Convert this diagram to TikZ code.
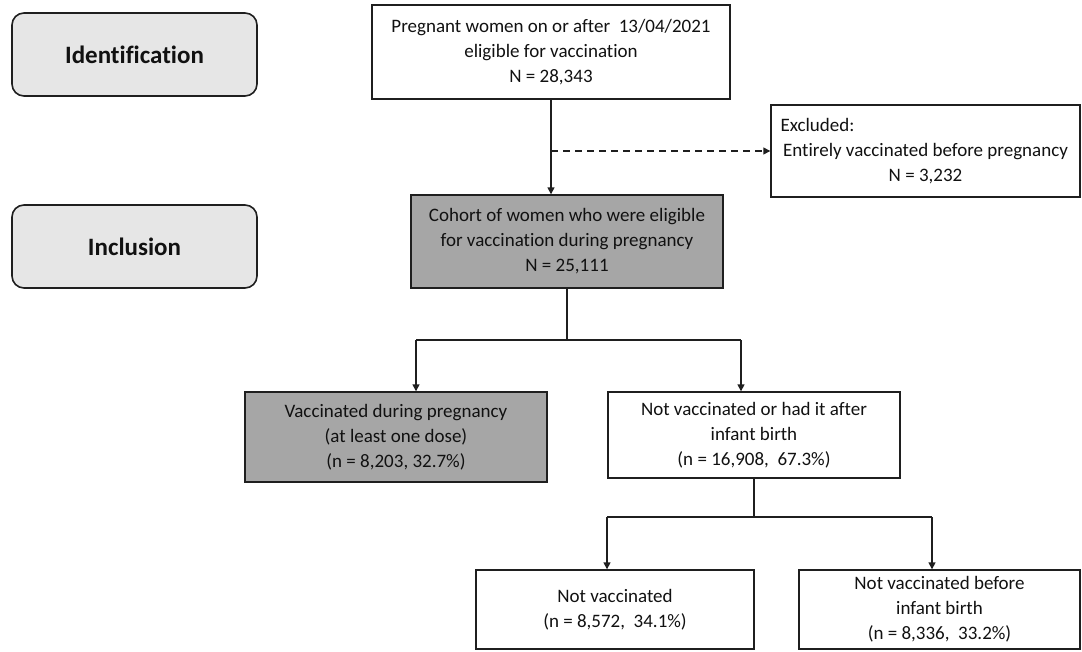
\documentclass[tikz,border=0pt]{standalone}
\usepackage{fontspec}
\setmainfont{Carlito}[Ligatures=NoCommon]
\usetikzlibrary{arrows.meta,calc}
\definecolor{boxline}{HTML}{1F1F1F}
\definecolor{lightfill}{HTML}{E6E6E6}
\definecolor{darkfill}{HTML}{A6A6A6}
\definecolor{txt}{HTML}{111111}
\tikzset{
  x=1pt,y=-1pt,
  stagebox/.style={draw=boxline,line width=1.6pt,fill=lightfill,rounded corners=12pt,
    font=\fontsize{25}{29}\selectfont\bfseries,text=txt,inner sep=0pt},
  flowbox/.style={draw=boxline,line width=1.4pt,fill=white,align=center,
    font=\fontsize{19}{25}\selectfont,text=txt,inner sep=0pt},
  greybox/.style={flowbox,fill=darkfill},
  conn/.style={draw=boxline,line width=1.4pt},
  arr/.style={conn,-{Triangle[length=7pt,width=7pt]}},
  dasharr/.style={arr,dashed,dash pattern=on 7pt off 5pt}
}
\begin{document}
\begin{tikzpicture}
\useasboundingbox (0,0) rectangle (1082,651);
\fill[white] (0,0) rectangle (1082,651);
% stage labels
\node[stagebox,minimum width=245pt,minimum height=83pt] (ident) at (134.5,54.5) {Identification};
\node[stagebox,minimum width=245pt,minimum height=83pt] (incl) at (134.5,246.5) {Inclusion};
% flow boxes
\node[flowbox,minimum width=358pt,minimum height=94pt] (top) at (551,52)
  {Pregnant women on or after\ \ 13/04/2021\\eligible for vaccination\\N = 28,343};
\node[flowbox,minimum width=309pt,minimum height=92pt] (excl) at (925.5,151)
  {\makebox[290pt][l]{Excluded:}\\Entirely vaccinated before pregnancy\\N = 3,232};
\node[greybox,minimum width=312pt,minimum height=93pt] (cohort) at (567,241.5)
  {Cohort of women who were eligible\\for vaccination during pregnancy\\N = 25,111};
\node[greybox,minimum width=302pt,minimum height=90pt] (vacc) at (396,437)
  {Vaccinated during pregnancy\\(at least one dose)\\(n = 8,203, 32.7\%)};
\node[flowbox,minimum width=292pt,minimum height=86pt] (notv) at (754,435)
  {Not vaccinated or had it after\\infant birth\\(n = 16,908,\ \ 67.3\%)};
\node[flowbox,minimum width=278pt,minimum height=79pt] (nv1) at (615,609.5)
  {Not vaccinated\\(n = 8,572,\ \ 34.1\%)};
\node[flowbox,minimum width=281pt,minimum height=79pt] (nv2) at (939.5,609.5)
  {Not vaccinated before\\infant birth\\(n = 8,336,\ \ 33.2\%)};
% connectors
\coordinate (split) at (top.south |- excl.west);
\draw[arr] (top.south) -- (top.south |- cohort.north);
\draw[dasharr] (split) -- (excl.west);
\coordinate (b1) at (cohort.south |- 0,340);
\coordinate (l1) at (416,340);
\coordinate (r1) at (741,340);
\draw[conn] (cohort.south) -- (b1);
\draw[conn] (l1) -- (r1);
\draw[arr] (l1) -- (l1 |- vacc.north);
\draw[arr] (r1) -- (r1 |- notv.north);
\coordinate (b2) at (notv.south |- 0,517);
\coordinate (l2) at (607,517);
\coordinate (r2) at (932,517);
\draw[conn] (notv.south) -- (b2);
\draw[conn] (l2) -- (r2);
\draw[arr] (l2) -- (l2 |- nv1.north);
\draw[arr] (r2) -- (r2 |- nv2.north);
\end{tikzpicture}
\end{document}
